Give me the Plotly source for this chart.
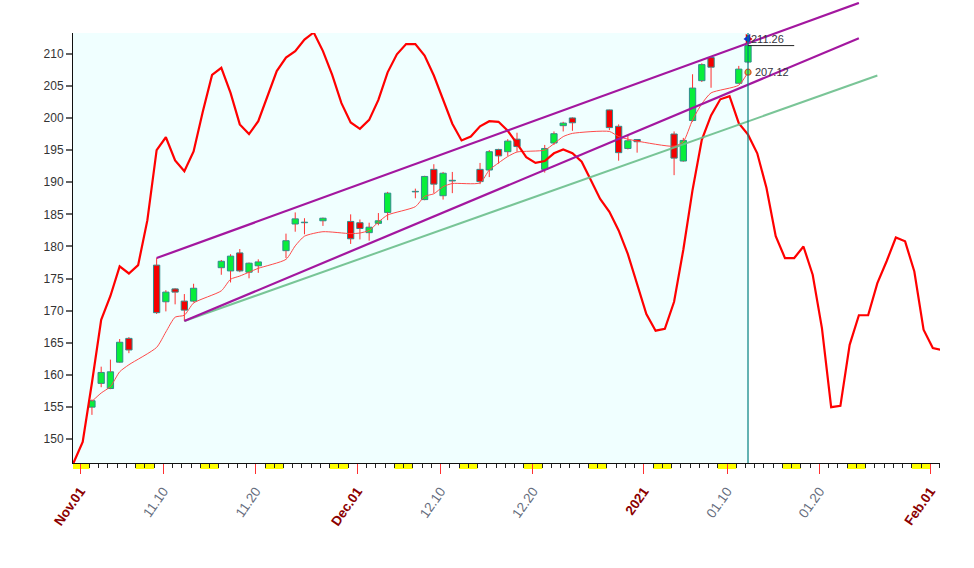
import pandas as pd
import plotly.graph_objects as go

# ---------------- data ----------------
trade_dates = ['2020-11-02', '2020-11-03', '2020-11-04', '2020-11-05', '2020-11-06',
               '2020-11-09', '2020-11-10', '2020-11-11', '2020-11-12', '2020-11-13',
               '2020-11-16', '2020-11-17', '2020-11-18', '2020-11-19', '2020-11-20',
               '2020-11-23', '2020-11-24', '2020-11-25', '2020-11-27', '2020-11-30',
               '2020-12-01', '2020-12-02', '2020-12-03', '2020-12-04',
               '2020-12-07', '2020-12-08', '2020-12-09', '2020-12-10', '2020-12-11',
               '2020-12-14', '2020-12-15', '2020-12-16', '2020-12-17', '2020-12-18',
               '2020-12-21', '2020-12-22', '2020-12-23', '2020-12-24',
               '2020-12-28', '2020-12-29', '2020-12-30', '2020-12-31',
               '2021-01-04', '2021-01-05', '2021-01-06', '2021-01-07', '2021-01-08',
               '2021-01-11', '2021-01-12']
opens = [155.0, 158.7, 157.9, 162.0, 165.7,
         177.1, 171.4, 173.4, 171.5, 171.5,
         176.7, 176.2, 179.0, 176.0, 177.0,
         179.35, 183.5, 183.7, 184.0, 183.9,
         183.7, 182.15, 183.6, 185.3,
         188.5, 187.3, 192.0, 187.9, 190.2,
         192.0, 191.9, 195.1, 194.75, 196.7,
         192.0, 196.1, 198.8, 200.0,
         201.25, 198.7, 195.25, 196.65,
         197.5, 193.3, 199.6, 205.8, 209.4,
         205.4, 208.7]
highs = [156.2, 161.3, 162.4, 165.6, 165.9,
         178.2, 173.2, 173.5, 172.6, 174.2,
         177.9, 178.8, 179.6, 177.5, 178.0,
         182.0, 185.3, 184.4, 184.5, 185.0,
         184.2, 183.7, 185.2, 188.5,
         189.0, 191.0, 192.8, 191.6, 191.6,
         193.0, 195.0, 195.2, 196.7, 197.7,
         195.8, 197.9, 199.4, 200.1,
         201.3, 199.0, 197.2, 196.7,
         197.9, 196.9, 206.8, 208.5, 209.6,
         208.1, 211.9]
lows = [153.8, 158.1, 157.8, 161.9, 163.4,
        169.5, 169.9, 171.0, 168.4, 171.3,
        175.6, 174.4, 176.0, 175.05, 175.9,
        178.2, 182.3, 181.9, 183.2, 180.4,
        181.1, 180.9, 183.3, 184.1,
        187.5, 187.2, 188.3, 187.3, 188.3,
        189.7, 190.8, 192.9, 194.1, 194.75,
        191.5, 195.8, 197.9, 198.0,
        198.1, 193.35, 195.1, 194.6,
        191.1, 193.2, 199.4, 205.6, 204.7,
        205.3, 208.5]
closes = [156.0, 160.4, 160.5, 165.1, 163.9,
          169.7, 172.9, 172.9, 170.1, 173.5,
          177.7, 178.5, 176.2, 177.4, 177.6,
          180.9, 184.3, 183.75, 184.4, 181.2,
          182.8, 183.0, 184.0, 188.3,
          188.55, 190.9, 189.7, 191.4, 190.3,
          190.1, 194.75, 194.1, 196.4, 195.55,
          195.25, 197.55, 199.2, 199.25,
          198.5, 194.6, 196.45, 196.3,
          193.75, 196.5, 204.65, 208.3, 207.9,
          207.6, 211.26]
ma_values = [155.9, 157.2, 158.2, 160.5, 161.6,
             164.3, 166.7, 169.0, 169.3, 171.2,
             173.1, 174.9, 175.4, 176.0, 176.6,
             178.0, 180.1, 181.6, 182.3, 182.0,
             182.1, 182.5, 183.8, 184.9,
             186.2, 187.8, 188.2, 189.3, 189.8,
             189.9, 191.9, 193.0, 194.0, 194.7,
             195.0, 196.0, 197.1, 197.6,
             197.9, 197.1, 196.7, 196.4,
             195.6, 196.3, 199.7, 202.2, 203.9,
             205.1, 207.12]

# daily oscillator overlay (calendar days, Oct 31 2020 .. Feb 02 2021)
osc_start = '2020-10-31'
osc_values = [146.3, 149.6, 158.8, 168.6, 172.3, 176.9, 175.8, 177.1, 184.1,
              195.0, 197.0, 193.4, 191.7, 194.8, 201.0, 206.7, 207.8, 203.9,
              199.0, 197.5, 199.5, 203.4, 207.3, 209.4, 210.4, 212.2, 213.3,
              210.4, 206.7, 202.3, 199.3, 198.3, 199.7, 202.8, 207.1, 209.9,
              211.5, 211.5, 209.7, 206.6, 202.9, 199.1, 196.5, 197.1, 198.7,
              199.5, 199.4, 198.0, 196.0, 193.9, 193.0, 193.3, 194.5, 195.1,
              194.5, 193.2, 190.3, 187.4, 185.4, 182.5, 178.8, 174.0, 169.5,
              166.9, 167.2, 171.4, 179.5, 188.8, 196.6, 200.4, 202.9, 203.4,
              199.2, 197.4, 194.5, 189.1, 181.6, 178.2, 178.2, 180.0, 175.6,
              167.3, 155.0, 155.2, 164.7, 169.3, 169.3, 174.3, 177.7, 181.4,
              180.8, 176.1, 167.05, 164.2, 163.9]

upper_channel_dates = ['2020-11-09', '2021-01-24']
upper_channel_values = [178.2, 217.9]
lower_channel_dates = ['2020-11-12', '2021-01-24']
lower_channel_values = [168.4, 212.4]
support_dates = ['2020-11-12', '2021-01-26']
support_values = [168.4, 206.6]

last_date = '2021-01-12'
last_close = 211.26
last_ma = 207.12
last_marker_price = 212.3

tick_dates = ['2020-11-01', '2020-11-10', '2020-11-20', '2020-12-01', '2020-12-10',
              '2020-12-20', '2021-01-01', '2021-01-10', '2021-01-20', '2021-02-01']
tick_labels = ['Nov.01', '11.10', '11.20', 'Dec.01', '12.10',
               '12.20', '2021', '01.10', '01.20', 'Feb.01']
tick_is_major = [True, False, False, True, False, False, True, False, False, True]
y_ticks = [150, 155, 160, 165, 170, 175, 180, 185, 190, 195, 200, 205, 210]

# ---------------- styling / layout constants ----------------
W, H = 974, 568
M_L, M_R, M_T, M_B = 72.5, 34, 2, 105
PLOT_H = H - M_T - M_B
Y_DOM_TOP = 430 / PLOT_H
Y_LO, Y_HI = 146.31, 213.22
Y2_HI = Y_LO + (Y_HI - Y_LO) / Y_DOM_TOP
X_RANGE = ['2020-10-31 05:18', '2021-02-02 01:10']
SHIFT = pd.Timedelta(hours=6.5)
BAR_W = 0.68 * 86400000

GREEN = '#08EE3A'
RED = '#F50000'
EDGE = '#2F8C8C'
PURPLE = '#A3179F'
SUPPORT = '#6CBF8C'

td = pd.to_datetime(trade_dates) + SHIFT
osc_x = pd.date_range(osc_start, periods=len(osc_values), freq='D') + SHIFT
last_x = pd.Timestamp(last_date) + SHIFT

fig = go.Figure()

# wicks (split so they don't cross bodies)
wx, wy = [], []
for x, o, h, l, c in zip(td, opens, highs, lows, closes):
    top, bot = max(o, c), min(o, c)
    wx += [x, x, None, x, x, None]
    wy += [h, top, None, bot, l, None]
fig.add_trace(go.Scatter(x=wx, y=wy, mode='lines', line=dict(color='#FF3030', width=1),
                         hoverinfo='skip', showlegend=False))

# bodies
body_base = [min(o, c) for o, c in zip(opens, closes)]
body_h = [max(abs(c - o), 0.08) for o, c in zip(opens, closes)]
body_col = [GREEN if c >= o else RED for o, c in zip(opens, closes)]
fig.add_trace(go.Bar(x=td, y=body_h, base=body_base, width=BAR_W,
                     marker=dict(color=body_col, line=dict(color=EDGE, width=1)),
                     hoverinfo='skip', showlegend=False))

# thin moving average
fig.add_trace(go.Scatter(x=td, y=ma_values, mode='lines',
                         line=dict(color='#FF4A4A', width=1, shape='spline', smoothing=0.6),
                         hoverinfo='skip', showlegend=False))

# thick oscillator overlay
fig.add_trace(go.Scatter(x=osc_x, y=osc_values, mode='lines',
                         line=dict(color='#FF0000', width=2.2),
                         hoverinfo='skip', showlegend=False))

# channel lines (on an extended, invisible y-axis so they may run above the plot)
for dts, vals, col in [(support_dates, support_values, SUPPORT),
                       (lower_channel_dates, lower_channel_values, PURPLE),
                       (upper_channel_dates, upper_channel_values, PURPLE)]:
    fig.add_trace(go.Scatter(x=pd.to_datetime(dts) + SHIFT, y=vals, mode='lines',
                             line=dict(color=col, width=2.2 if col == PURPLE else 2),
                             opacity=1 if col == PURPLE else 0.9,
                             yaxis='y2', hoverinfo='skip', showlegend=False))

# last-price markers
fig.add_trace(go.Scatter(x=[last_x], y=[last_marker_price], mode='markers',
                         marker=dict(symbol='triangle-right', size=9, color='#E00000'),
                         hoverinfo='skip', showlegend=False, cliponaxis=False))
fig.add_trace(go.Scatter(x=[last_x], y=[last_marker_price], mode='markers',
                         marker=dict(symbol='triangle-left', size=9, color='#1030D0'),
                         hoverinfo='skip', showlegend=False, cliponaxis=False))
fig.add_trace(go.Scatter(x=[last_x], y=[last_ma], mode='markers',
                         marker=dict(symbol='circle', size=6, color='#7CEB40',
                                     line=dict(color='#E05020', width=1.2)),
                         hoverinfo='skip', showlegend=False))

shapes = []
# cyan history background
shapes.append(dict(type='rect', xref='x', yref='y domain', x0=X_RANGE[0], x1=last_x,
                   y0=0, y1=1, fillcolor='#F0FFFF', line=dict(width=0), layer='below'))
# weekend marks under the axis
for sat in pd.date_range('2020-10-31', '2021-02-01', freq='W-SAT'):
    shapes.append(dict(type='rect', xref='x', yref='paper', x0=sat, x1=sat + pd.Timedelta(days=2),
                       y0=-6 / PLOT_H, y1=0, fillcolor='#FFFF00', line=dict(width=0), layer='below'))
# current-day vertical line
shapes.append(dict(type='line', xref='x', yref='y domain', x0=last_x, x1=last_x, y0=0, y1=1,
                   line=dict(color='#008080', width=1.2)))
# last close price line
shapes.append(dict(type='line', xref='x', yref='y', x0=last_x, x1=last_x + pd.Timedelta(days=5),
                   y0=last_close, y1=last_close, line=dict(color='#222222', width=1)))

annotations = [
    dict(x=last_x, y=last_marker_price, xref='x', yref='y', text=f'{last_close:.2f}',
         showarrow=False, xanchor='left', yanchor='middle', xshift=1,
         font=dict(family='Liberation Sans, Arial', size=11, color='#333340')),
    dict(x=last_x, y=last_ma, xref='x', yref='y', text=f'{last_ma:.2f}',
         showarrow=False, xanchor='left', yanchor='middle', xshift=5,
         font=dict(family='Liberation Sans, Arial', size=11, color='#333340')),
]

ticktext = [f"<b><span style='color:#8B0000'>{t}</span></b>" if m else t
            for t, m in zip(tick_labels, tick_is_major)]

fig.update_layout(
    width=W, height=H,
    margin=dict(l=M_L, r=M_R, t=M_T, b=M_B, pad=0, autoexpand=False),
    paper_bgcolor='white', plot_bgcolor='rgba(0,0,0,0)',
    showlegend=False, barmode='overlay', hovermode=False,
    font=dict(family='Liberation Sans, Arial, sans-serif'),
    shapes=shapes, annotations=annotations,
    xaxis=dict(type='date', range=X_RANGE, anchor='y', automargin=False,
               tickmode='array', tickvals=tick_dates, ticktext=ticktext,
               tickangle=-55, ticks='outside', ticklen=10, tickwidth=1, tickcolor='#FF3030',
               ticklabelstandoff=4,
               tickfont=dict(size=13.5, color='#656C7C'),
               minor=dict(dtick=86400000, tick0='2020-11-01', ticks='outside', ticklen=4,
                          tickcolor='#222222', tickwidth=1, showgrid=False),
               showline=True, linecolor='#111111', linewidth=1,
               showgrid=False, zeroline=False, fixedrange=True),
    yaxis=dict(domain=[0, Y_DOM_TOP], range=[Y_LO, Y_HI], anchor='x', automargin=False,
               tickmode='array', tickvals=y_ticks,
               ticks='outside', ticklen=6, tickcolor='#666666', tickwidth=2,
               tickfont=dict(size=12, color='#333333'),
               showline=True, linecolor='#111111', linewidth=1,
               showgrid=False, zeroline=False, fixedrange=True),
    yaxis2=dict(domain=[0, 1], range=[Y_LO, Y2_HI], anchor='x', visible=False,
                showgrid=False, zeroline=False, fixedrange=True),
)

fig.write_html('out.html', config={'displayModeBar': False},
               post_script="document.body.style.margin='0px';")
